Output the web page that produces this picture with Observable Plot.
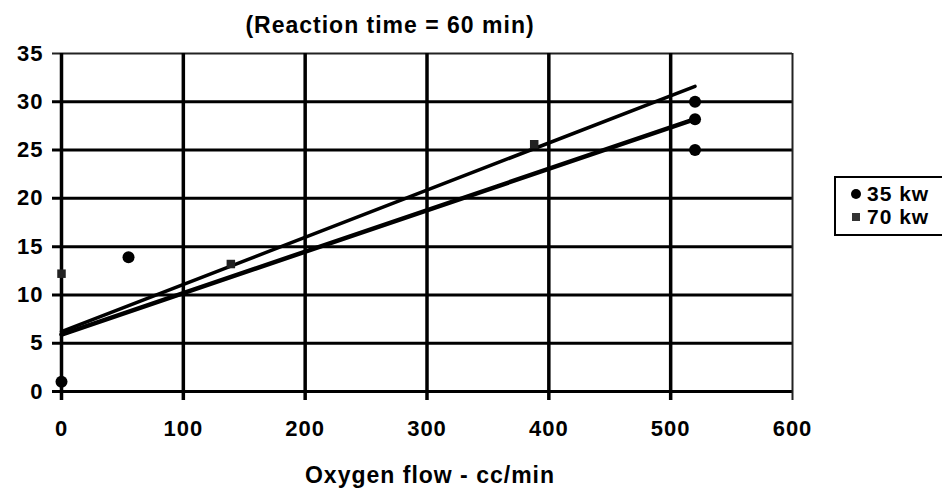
<!DOCTYPE html>
<html>
<head>
<meta charset="utf-8">
<script src="https://cdn.jsdelivr.net/npm/d3@7"></script>
<script src="https://cdn.jsdelivr.net/npm/@observablehq/plot@0.6"></script>
<style>
  html, body { margin: 0; padding: 0; background: #fff; }
  #wrap { position: relative; width: 942px; height: 493px; overflow: hidden; font-family: "Liberation Sans", Arial, sans-serif; }
  #legend { position: absolute; left: 834px; top: 176px; width: 106px; height: 56px; border: 2px solid #000; background: #fff;
            font: bold 21px "Liberation Sans", Arial, sans-serif; letter-spacing: 1px; color: #000; }
  .row { position: absolute; left: 0; height: 22px; line-height: 22px; white-space: nowrap; }
  .mk { position: absolute; top: 50%; transform: translate(-50%, -50%); line-height: 0; }
  .lab { position: absolute; left: 31px; top: 0; }
</style>
</head>
<body>
<div id="wrap"></div>
<script>
// ---- data ----
const titleText = "(Reaction time = 60 min)";
const xLabel = "Oxygen flow - cc/min";
const seriesNames = ["35 kw", "70 kw"];

const xTicks = [0, 100, 200, 300, 400, 500, 600];
const yTicks = [0, 5, 10, 15, 20, 25, 30, 35];

const kw35X = [0, 55, 520, 520, 520];
const kw35Y = [1, 13.9, 30, 28.2, 25];

const kw70X = [0, 139, 388];
const kw70Y = [12.2, 13.2, 25.6];

// two straight trend lines drawn in the chart
const trendUpperX = [0, 520];
const trendUpperY = [6.2, 31.6];
const trendLowerX = [0, 520];
const trendLowerY = [5.9, 28.2];

// ---- build tables ----
const pts35 = kw35X.map((x, i) => ({x, y: kw35Y[i]}));
const pts70 = kw70X.map((x, i) => ({x, y: kw70Y[i]}));
const upper = trendUpperX.map((x, i) => ({x, y: trendUpperY[i]}));
const lower = trendLowerX.map((x, i) => ({x, y: trendLowerY[i]}));

const innerX = xTicks.filter(d => d < 600);
const innerY = yTicks.filter(d => d < 35);

const chart = Plot.plot({
  width: 942,
  height: 493,
  marginLeft: 61,
  marginRight: 150,
  marginTop: 53,
  marginBottom: 102,
  style: {fontFamily: "'Liberation Sans', Arial, sans-serif", fontSize: "22px", fontWeight: "bold", letterSpacing: "1px", color: "#000", background: "#fff"},
  x: {domain: [0, 600], ticks: xTicks, tickSize: 0, tickPadding: 29, label: null, tickFormat: d => String(d)},
  y: {domain: [0, 35], ticks: yTicks, tickSize: 0, tickPadding: 18, label: null, tickFormat: d => String(d)},
  marks: [
    // grid
    Plot.ruleY(innerY, {stroke: "#000", strokeWidth: 3, insetLeft: -9}),
    Plot.ruleY([35], {stroke: "#222", strokeWidth: 2, insetLeft: -9}),
    Plot.ruleX(innerX, {stroke: "#000", strokeWidth: 3.5, insetBottom: -9}),
    Plot.ruleX([600], {stroke: "#222", strokeWidth: 2, insetBottom: -9}),
    // trend lines
    Plot.line(upper, {x: "x", y: "y", stroke: "#000", strokeWidth: 3.5}),
    Plot.line(lower, {x: "x", y: "y", stroke: "#000", strokeWidth: 4.5}),
    // data points
    Plot.dot(pts70, {x: "x", y: "y", symbol: "square", r: 4.8, fill: "#222", stroke: "none"}),
    Plot.dot(pts35, {x: "x", y: "y", symbol: "circle", r: 6, fill: "#000", stroke: "none"}),
    // title and axis label
    Plot.text([titleText], {frameAnchor: "top", lineAnchor: "middle", dx: -37, dy: -28, fontSize: 23, fontWeight: "bold", fill: "#000"}),
    Plot.text([xLabel], {frameAnchor: "bottom", lineAnchor: "middle", dx: 3, dy: 84, fontSize: 23, fontWeight: "bold", fill: "#000"})
  ]
});

const wrap = document.getElementById("wrap");
wrap.appendChild(chart);

// legend
const legend = document.createElement("div");
legend.id = "legend";
const markers = [
  '<svg width="12" height="12"><circle cx="6" cy="6" r="5" fill="#000"/></svg>',
  '<svg width="10" height="10"><rect x="1" y="1" width="8" height="8" fill="#333"/></svg>'
];
seriesNames.forEach((name, i) => {
  const row = document.createElement("div");
  row.className = "row";
  row.style.top = (5 + i * 23) + "px";
  row.style.width = "106px";
  row.innerHTML = `<span class="mk" style="left:20px">${markers[i]}</span><span class="lab">${name}</span>`;
  legend.appendChild(row);
});
wrap.appendChild(legend);
</script>
</body>
</html>
